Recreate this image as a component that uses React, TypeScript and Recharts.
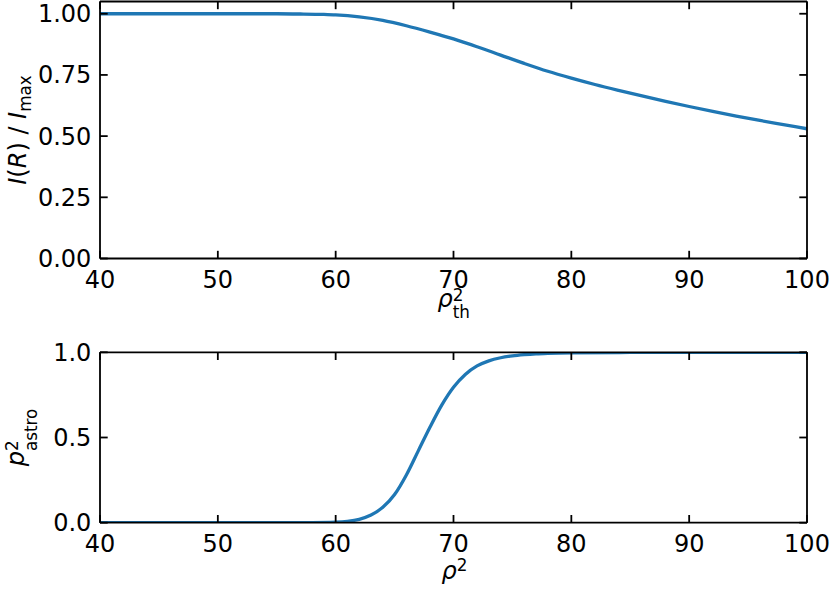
import React from 'react';
import { LineChart, Line, XAxis, YAxis } from 'recharts';

// ---------- data ----------
const xTicks = [40, 50, 60, 70, 80, 90, 100];
const topYTicks = [0, 0.25, 0.5, 0.75, 1];
const bottomYTicks = [0, 0.5, 1];

const rhoTh = [40, 45, 50, 55, 57, 59, 60, 62, 64, 66, 68, 70, 72, 74, 76, 78, 80, 82, 84, 86, 88, 90, 92, 94, 96, 98, 100];
const intensity = [1, 1, 1, 1, 0.999, 0.997, 0.995, 0.987, 0.973, 0.951, 0.925, 0.897, 0.865, 0.831, 0.797, 0.765, 0.737, 0.711, 0.687, 0.664, 0.642, 0.621, 0.601, 0.582, 0.564, 0.547, 0.53];

const rho = [40, 50, 55, 58, 60, 61, 62, 63, 64, 65, 66, 67, 68, 69, 70, 71, 72, 73, 74, 75, 76, 77, 78, 80, 85, 90, 100];
const pAstro = [0, 0, 0, 0.0005, 0.003, 0.008, 0.02, 0.045, 0.09, 0.165, 0.28, 0.42, 0.56, 0.69, 0.795, 0.87, 0.92, 0.95, 0.968, 0.979, 0.986, 0.991, 0.994, 0.997, 0.999, 1, 1];

const topData = rhoTh.map((x, i) => ({ x, y: intensity[i] }));
const bottomData = rho.map((x, i) => ({ x, y: pAstro[i] }));

// ---------- style ----------
const FONT = 'DejaVu Sans';
const FS = 24;
const BLUE = '#1f77b4';
const AX = { stroke: '#000', strokeWidth: 1.8 };
const TICK = { fill: '#000', fontSize: FS, fontFamily: FONT };
const TS = -7.7;

const W = 832;
const PLOT_L = 100;
const PLOT_R = 807;
const TOP_T = 1.5, TOP_B = 258.5;
const BOT_T = 352.3, BOT_B = 522.7;

const Panel = ({ data, top, plotT, plotB, domainY, yTicks, fmt }: any) => {
  const H = 300;
  return (
    <div style={{ position: 'absolute', left: 0, top }}>
      <LineChart
        width={W}
        height={H}
        data={data}
        margin={{ top: plotT - top - 1, right: W - PLOT_R - 1, bottom: H - (plotB - top) - 40, left: PLOT_L - 80 }}
      >
        <XAxis xAxisId="b" dataKey="x" type="number" domain={[40, 100]} ticks={xTicks}
          allowDataOverflow height={40} axisLine={AX} tickLine={AX} tickSize={TS} tickMargin={20.2}
          tick={TICK} interval={0} />
        <XAxis xAxisId="t" orientation="top" dataKey="x" type="number" domain={[40, 100]} ticks={xTicks}
          allowDataOverflow height={1} axisLine={AX} tickLine={AX} tickSize={TS}
          tickFormatter={() => ''} interval={0} />
        <YAxis yAxisId="l" type="number" domain={domainY} ticks={yTicks} allowDataOverflow width={80}
          axisLine={AX} tickLine={AX} tickSize={TS} tickMargin={16.3} tick={TICK}
          tickFormatter={fmt} interval={0} />
        <YAxis yAxisId="r" orientation="right" type="number" domain={domainY} ticks={yTicks} allowDataOverflow
          width={1} axisLine={AX} tickLine={AX} tickSize={TS} tickFormatter={() => ''} interval={0} />
        <Line xAxisId="b" yAxisId="l" dataKey="y" type="monotone" stroke={BLUE} strokeWidth={3.3}
          dot={false} isAnimationActive={false} />
      </LineChart>
    </div>
  );
};

const Labels = () => {
  const cx = (PLOT_L + PLOT_R) / 2;
  const topCy = (TOP_T + TOP_B) / 2;
  const botCy = (BOT_T + BOT_B) / 2;
  const sub = FS * 0.7;
  const twoW = 0.636 * sub;
  const yl1 = 26;
  const yl2 = 24;
  return (
    <svg width={W} height={600} style={{ position: 'absolute', left: 0, top: 0, pointerEvents: 'none' }}
      fontFamily={FONT} fontSize={FS} fill="#000">
      {/* top y label */}
      <text x={yl1} y={topCy} textAnchor="middle" transform={`rotate(-90 ${yl1} ${topCy})`}>
        <tspan fontStyle="italic">I</tspan>
        <tspan>(</tspan>
        <tspan fontStyle="italic">R</tspan>
        <tspan>) / </tspan>
        <tspan fontStyle="italic">I</tspan>
        <tspan fontSize={sub} dy={5}>max</tspan>
      </text>
      {/* top x label */}
      <text x={cx - 16} y={307}>
        <tspan fontStyle="italic">ρ</tspan>
        <tspan fontSize={sub} dy={-6}>2</tspan>
        <tspan fontSize={sub} dx={-twoW} dy={17}>th</tspan>
      </text>
      {/* bottom y label */}
      <text x={yl2} y={botCy} textAnchor="middle" transform={`rotate(-90 ${yl2} ${botCy})`}>
        <tspan fontStyle="italic">p</tspan>
        <tspan fontSize={sub} dy={-6}>2</tspan>
        <tspan fontSize={sub} dx={-twoW} dy={19}>astro</tspan>
      </text>
      {/* bottom x label */}
      <text x={cx - 12} y={579}>
        <tspan fontStyle="italic">ρ</tspan>
        <tspan fontSize={sub} dy={-8}>2</tspan>
      </text>
    </svg>
  );
};

export default function App() {
  return (
    <div style={{ position: 'absolute', left: 0, top: 0, width: W, height: 600, background: '#fff' }}>
      <Panel data={topData} top={0} plotT={TOP_T} plotB={TOP_B} domainY={[0, 1.05]} yTicks={topYTicks}
        fmt={(v: number) => v.toFixed(2)} />
      <Panel data={bottomData} top={300} plotT={BOT_T} plotB={BOT_B} domainY={[0, 1]} yTicks={bottomYTicks}
        fmt={(v: number) => v.toFixed(1)} />
      <Labels />
    </div>
  );
}
